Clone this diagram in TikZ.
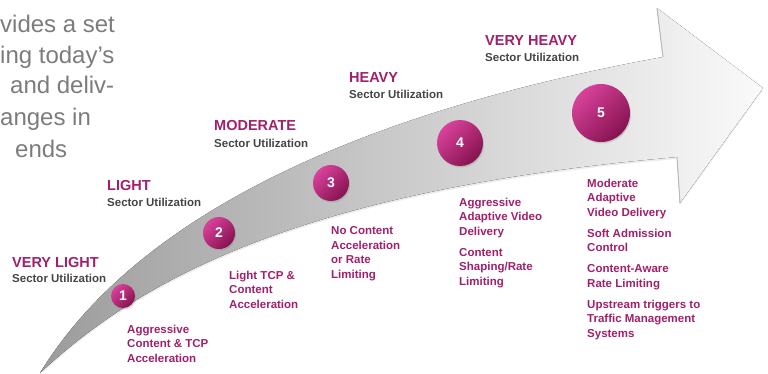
\documentclass[tikz,border=0pt]{standalone}
\usepackage{fontspec}
\setmainfont{Liberation Sans}
\usepackage{tikz}
\usetikzlibrary{shadows}
\definecolor{levelmag}{HTML}{A0206A}
\definecolor{ballhi}{HTML}{D8429B}
\definecolor{balllo}{HTML}{86124F}
\definecolor{subgray}{HTML}{454545}
\definecolor{paragray}{HTML}{7C7C7C}

\begin{document}
\begin{tikzpicture}[x=1pt,y=-1pt,every text node part/.style={align=left}]
		\tikzstyle{para}=[anchor=base west,inner sep=0pt,text=paragray,font=\fontsize{24}{31}\selectfont]
		\tikzstyle{level}=[anchor=base west,inner sep=0pt,text=levelmag,font=\fontsize{14.5}{16}\selectfont\bfseries]
		\tikzstyle{sector}=[anchor=base west,inner sep=0pt,text=subgray,font=\fontsize{11.5}{14}\selectfont\bfseries]
		\tikzstyle{action}=[anchor=north west,inner sep=0pt,text=levelmag,font=\fontsize{11.5}{14.5}\selectfont\bfseries]
		\tikzstyle{ball}=[circle,inner sep=0pt,text=white,font=\fontsize{14}{14}\selectfont\bfseries,
			left color=ballhi,right color=balllo,shading angle=45,
			drop shadow={opacity=.3,shadow xshift=1pt,shadow yshift=-1.5pt}]
		
		\useasboundingbox (0,0) rectangle (768,373);
		
		% cut-off paragraph
		\node[para] (P1) at (0,32)  {vides a set};
		\node[para] (P2) at (0,63)  {ing today's};
		\node[para] (P3) at (10,93) {and deliv-};
		\node[para] (P4) at (0,125) {anges in};
		\node[para] (P5) at (15,157) {ends};
		
		% the arrow
		\fill[left color=gray!78,middle color=gray!22,right color=gray!4,
			drop shadow={opacity=.15,shadow xshift=0pt,shadow yshift=-2pt}]
			(40,373) .. controls (115,250) and (290,125) .. (663,57) -- (657,8) -- (763,88)
			-- (680,203) -- (677,157) .. controls (300,190) and (140,280) .. (40,373) -- cycle;
		\draw[gray!55,line width=1pt] (663,57) -- (657,8);
		\draw[gray!55,line width=1pt] (677,157) -- (680,203);
		
		\node[ball,minimum size=24pt] (A) at (123,296) {1};
		\node[ball,minimum size=32pt] (B) at (219,233) {2};
		\node[ball,minimum size=36pt] (C) at (331,183) {3};
		\node[ball,minimum size=46pt] (D) at (460,143) {4};
		\node[ball,minimum size=58pt] (E) at (601,113) {5};
		
		\node[level]  (LA) at (12,267)  {VERY LIGHT};
		\node[sector] (SA) at (12,282)  {Sector Utilization};
		\node[level]  (LB) at (107,190) {LIGHT};
		\node[sector] (SB) at (107,206) {Sector Utilization};
		\node[level]  (LC) at (214,130) {MODERATE};
		\node[sector] (SC) at (214,147) {Sector Utilization};
		\node[level]  (LD) at (349,82)  {HEAVY};
		\node[sector] (SD) at (349,98)  {Sector Utilization};
		\node[level]  (LE) at (485,45)  {VERY HEAVY};
		\node[sector] (SE) at (485,61)  {Sector Utilization};
		
		\node[action] (DA) at (127,324.6) {Aggressive \\ Content \& TCP \\ Acceleration};
		\node[action] (DB) at (229,270.6) {Light TCP \& \\ Content \\ Acceleration};
		\node[action] (DC) at (331,226.6) {No Content \\ Acceleration \\ or Rate \\ Limiting};
		\node[action] (DD) at (459,197.6) {Aggressive \\ Adaptive Video \\ Delivery \\[6.5pt]
			Content \\ Shaping/Rate \\ Limiting};
		\node[action] (DE) at (587,178.6) {Moderate \\ Adaptive \\ Video Delivery \\[6.5pt]
			Soft Admission \\ Control \\[6.5pt] Content-Aware \\ Rate Limiting \\[6.5pt]
			Upstream triggers to \\ Traffic Management \\ Systems};
		
\end{tikzpicture}
\end{document}
